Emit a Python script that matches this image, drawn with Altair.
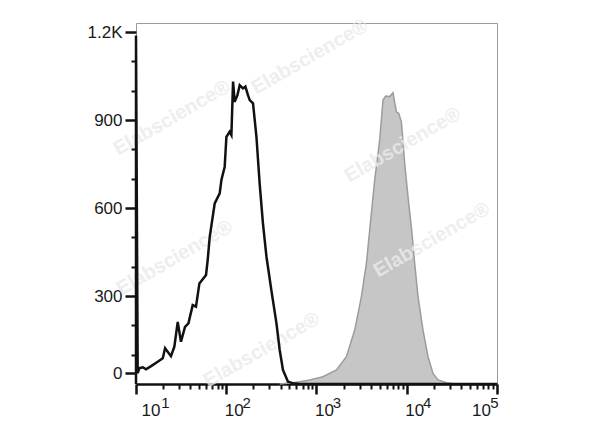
import altair as alt
import pandas as pd

# ---- data ----
# control sample (black outline histogram): fluorescence value, event count
ctrl_fl = [10.0, 10.0, 10.44, 10.9, 11.9, 12.9, 14.7, 17.4, 19.8, 21.0, 24.4, 26.6, 29.0, 31.5,
           34.9, 38.1, 42.5, 46.2, 50.4, 59.7, 62.3, 65.6, 74.5, 84.6, 88.4, 96.1, 100.4, 109,
           114, 119, 124, 133, 141, 153, 163, 174, 182, 198, 216, 235, 255, 279, 316, 360, 391,
           425, 483, 545, 652, 1000, 10000, 100000]
ctrl_count = [0, 1188, 37, 54, 57, 50, 61, 76, 88, 122, 95, 127, 212, 144,
              195, 207, 269, 264, 343, 372, 423, 502, 616, 650, 696, 741, 843, 860,
              849, 1031, 962, 985, 1019, 1008, 1014, 985, 968, 957, 843, 680, 548, 434, 320, 207, 116,
              48, 8, 3, 0, 0, 0, 0]

# stained sample (grey filled histogram)
stain_fl = [391, 505, 652, 841, 1180, 1662, 2145, 2651, 3145, 3572, 3886, 4415, 5016, 5456, 5846,
            6474, 7041, 7680, 8142, 8725, 9491, 10320, 11340, 12250, 13330, 15140, 17200, 19540,
            22200, 27510, 34000]
stain_count = [0, 3, 8, 14, 25, 48, 93, 184, 298, 411, 525, 696, 832, 968, 982,
               980, 993, 928, 923, 894, 752, 639, 525, 411, 298, 184, 93, 36,
               14, 4, 0]

# watermark anchors (in data units)
wm_fl = [841, 24.9, 9020, 26.8, 18900, 247]
wm_count = [1115, 907, 815, 430, 491, 116]
wm_text = "Elabscience®"

# axis ticks
x_major = [10, 100, 1000, 10000, 100000]
x_minor = [20, 30, 40, 50, 60, 70, 80, 90,
           200, 300, 400, 500, 600, 700, 800, 900,
           2000, 3000, 4000, 5000, 6000, 7000, 8000, 9000,
           20000, 30000, 40000, 50000, 60000, 70000, 80000, 90000]
y_major = [37, 300, 600, 900, 1200]   # the "0" label sits slightly above the baseline
y_minor = [100, 200, 400, 500, 700, 800, 1000, 1100]

ctrl_df = pd.DataFrame({"fl": ctrl_fl, "count": ctrl_count, "i": list(range(len(ctrl_fl)))})
stain_df = pd.DataFrame({"fl": stain_fl, "count": stain_count})
wm_df = pd.DataFrame({"fl": wm_fl, "count": wm_count})

FONT = "Liberation Sans"
INK = "#111111"
LABEL = "#1a1a1a"

xs = alt.Scale(type="log", domain=[10, 100000], nice=False)
ys = alt.Scale(domain=[0, 1231], nice=False, zero=False)

area = alt.Chart(stain_df).mark_area(
    color="#c6c6c6", opacity=1, line={"color": "#9c9c9c", "strokeWidth": 1.5}
).encode(
    x=alt.X("fl:Q", scale=xs, axis=alt.Axis(
        orient="bottom", values=x_minor, labels=False, tickSize=5, tickWidth=2,
        tickColor=INK, domain=True, domainColor=INK, domainWidth=2.5, grid=False, title=None)),
    y=alt.Y("count:Q", scale=ys, axis=alt.Axis(
        orient="left", values=y_minor, labels=False, tickSize=5, tickWidth=2,
        tickColor=INK, domain=False, grid=False, title=None)),
)

wm = alt.Chart(wm_df).mark_text(
    text=wm_text, angle=330, font=FONT, fontWeight="bold", fontSize=20,
    color="#ebebeb", opacity=0.8
).encode(
    x=alt.X("fl:Q", scale=xs, axis=alt.Axis(
        orient="bottom", values=x_major, labelExpr="'' + round(log(datum.value) / LN10)",
        ticks=True, tickSize=0, tickOpacity=0, domain=False, labelPadding=11,
        labelFontSize=15, labelFont=FONT, labelColor=LABEL, labelFlush=False,
        labelAlign="center",
        labelOffset={"condition": [{"test": "datum.value <= 10", "value": 29},
                                   {"test": "datum.value >= 100000", "value": -3}],
                     "value": 20},
        grid=False, title=None)),
    y=alt.Y("count:Q", scale=ys, axis=None),
)

line = alt.Chart(ctrl_df).mark_line(color=INK, strokeWidth=2.5).encode(
    x=alt.X("fl:Q", scale=xs, axis=alt.Axis(
        orient="bottom", values=x_major, labelExpr="'10'", tickSize=10, tickWidth=2.5,
        tickColor=INK, domain=False, labelPadding=8, labelFontSize=17, labelFont=FONT,
        labelColor=LABEL, labelFlush=False, labelAlign="center",
        labelOffset={"condition": [{"test": "datum.value <= 10", "value": 14.5},
                                   {"test": "datum.value >= 100000", "value": -16}],
                     "value": 7.5},
        grid=False, title=None)),
    y=alt.Y("count:Q", scale=ys, axis=alt.Axis(
        orient="left", values=y_major,
        labelExpr="datum.value < 100 ? '0' : (datum.value >= 1200 ? '1.2K' : '' + datum.value)",
        tickSize=11, tickWidth=2.5, tickColor=INK, domain=False, labelPadding=3,
        labelFontSize=17, labelFont=FONT, labelColor=LABEL, grid=False, title=None)),
    order="i:Q",
)

chart = alt.layer(area, wm, line).resolve_axis(
    x="independent", y="independent"
).properties(
    width=361, height=361,
    padding={"left": 128, "top": 15, "right": 20, "bottom": 40},
    autosize=alt.AutoSizeParams(type="none"),
    background="white",
).configure_view(stroke="#9a9a9a", strokeWidth=1)

chart.save("out.html", embed_options={"renderer": "svg", "actions": False})
